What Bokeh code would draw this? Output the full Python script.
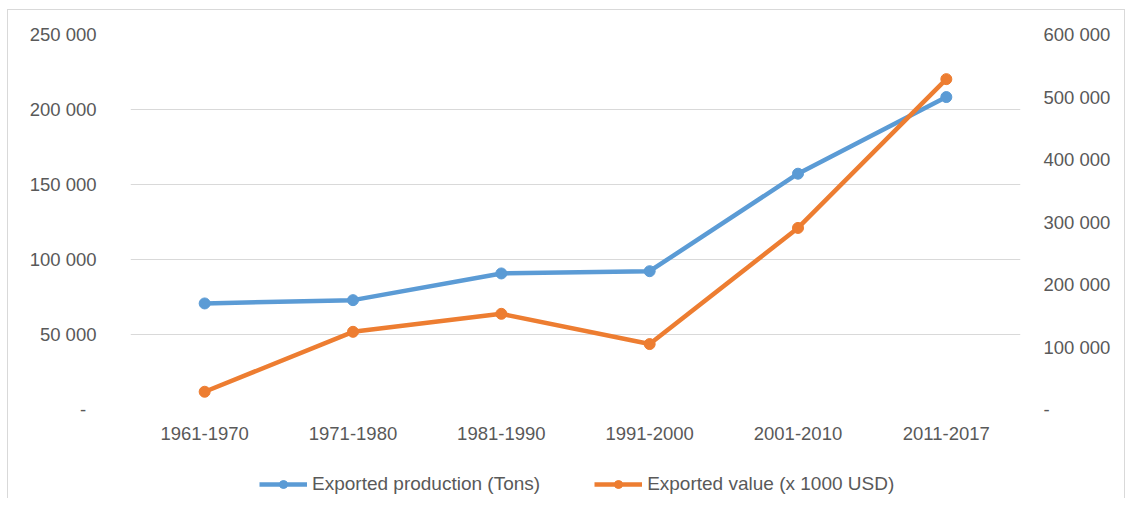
from bokeh.plotting import figure
from bokeh.layouts import column
from bokeh.models import (Range1d, LinearAxis, FactorRange, Legend, LegendItem,
                          FixedTicker, CustomJSTickFormatter, ColumnDataSource)
from bokeh.embed import file_html
from bokeh.resources import INLINE

categories = ["1961-1970", "1971-1980", "1981-1990", "1991-2000", "2001-2010", "2011-2017"]
production_tons = [70700, 72900, 90700, 92200, 157200, 208300]
value_k_usd = [28400, 124300, 153100, 104700, 290500, 528600]
left_ticks = [0, 50000, 100000, 150000, 200000, 250000]
right_ticks = [0, 100000, 200000, 300000, 400000, 500000, 600000]
series_names = ["Exported production (Tons)", "Exported value (x 1000 USD)"]

FONT = "Liberation Sans"
TXT = "#595959"
BLUE = "#5B9BD5"
ORANGE = "#ED7D31"
W = 1125
g = "linear-gradient(#d9d9d9,#d9d9d9)"

src = ColumnDataSource(dict(cat=categories, prod=production_tons, val=value_k_usd))
xr = FactorRange(*categories, range_padding=0)

p = figure(width=W, height=455, x_range=xr,
           y_range=Range1d(0, 250000), output_backend="svg", toolbar_location=None,
           min_border_left=130, min_border_right=105, min_border_top=34, min_border_bottom=46)
p.extra_y_ranges = {"val": Range1d(0, 600000)}
p.styles = {"background": f"{g} 7px 9px / 1px 100% no-repeat, {g} 7px 9px / 100% 1px no-repeat, "
                          f"{g} 1124px 9px / 1px 100% no-repeat, white"}
p.border_fill_alpha = 0
p.background_fill_alpha = 0
p.outline_line_color = None

fmt_left = CustomJSTickFormatter(code="""
if (tick == 0) return "-\u00a0\u00a0";
return tick.toFixed(0).replace(/\\B(?=(\\d{3})+(?!\\d))/g, " ");
""")
fmt_right = CustomJSTickFormatter(code="""
if (tick == 0) return "-";
return tick.toFixed(0).replace(/\\B(?=(\\d{3})+(?!\\d))/g, " ");
""")

def style_axis(ax, standoff):
    ax.axis_line_color = None
    ax.major_tick_line_color = None
    ax.minor_tick_line_color = None
    ax.major_tick_out = 0
    ax.major_tick_in = 0
    ax.major_label_text_font = FONT
    ax.major_label_text_font_size = "18.5px"
    ax.major_label_text_color = TXT
    ax.major_label_standoff = standoff

p.yaxis.ticker = FixedTicker(ticks=left_ticks)
p.yaxis.formatter = fmt_left
style_axis(p.yaxis[0], 34)
style_axis(p.xaxis[0], 17)

raxis = LinearAxis(y_range_name="val", ticker=FixedTicker(ticks=right_ticks), formatter=fmt_right)
style_axis(raxis, 23)
p.add_layout(raxis, "right")

p.xgrid.grid_line_color = None
p.ygrid.ticker = FixedTicker(ticks=left_ticks)
p.ygrid.grid_line_color = "#d9d9d9"
p.ygrid.grid_line_width = 1

p.line("cat", "prod", source=src, line_color=BLUE, line_width=4.5)
p.scatter("cat", "prod", source=src, size=11, fill_color=BLUE, line_color=BLUE)
p.line("cat", "val", source=src, line_color=ORANGE, line_width=4.5, y_range_name="val")
p.scatter("cat", "val", source=src, size=11, fill_color=ORANGE, line_color=ORANGE, y_range_name="val")

# legend strip below the chart (its view range excludes the data, so only the legend shows)
lf = figure(width=W, height=43, x_range=xr, y_range=Range1d(-2, -1),
            output_backend="svg", toolbar_location=None,
            min_border_left=0, min_border_right=0, min_border_top=0, min_border_bottom=0)
lf.styles = {"background": f"{g} 7px 0 / 1px 100% no-repeat, {g} 1124px 0 / 1px 100% no-repeat, white"}
lf.border_fill_alpha = 0
lf.background_fill_alpha = 0
lf.outline_line_color = None
lf.axis.visible = False
lf.grid.visible = False
r1 = lf.line("cat", "prod", source=src, line_color=BLUE, line_width=4.5)
s1 = lf.scatter("cat", "prod", source=src, size=11, fill_color=BLUE, line_color=BLUE)
r2 = lf.line("cat", "val", source=src, line_color=ORANGE, line_width=4.5)
s2 = lf.scatter("cat", "val", source=src, size=11, fill_color=ORANGE, line_color=ORANGE)

legend = Legend(items=[LegendItem(label=series_names[0], renderers=[r1, s1], index=0),
                       LegendItem(label=series_names[1], renderers=[r2, s2], index=0)],
                location=(129, 3), orientation="horizontal")
legend.label_text_font = FONT
legend.label_text_font_size = "19px"
legend.label_text_color = TXT
legend.glyph_width = 48
legend.glyph_height = 20
legend.label_standoff = 5
legend.spacing = 54
legend.border_line_color = None
legend.background_fill_alpha = 0
legend.margin = 0
legend.padding = 4
lf.add_layout(legend, "center")

layout = column(p, lf, spacing=0)
open("out.html", "w").write(file_html(layout, INLINE))
